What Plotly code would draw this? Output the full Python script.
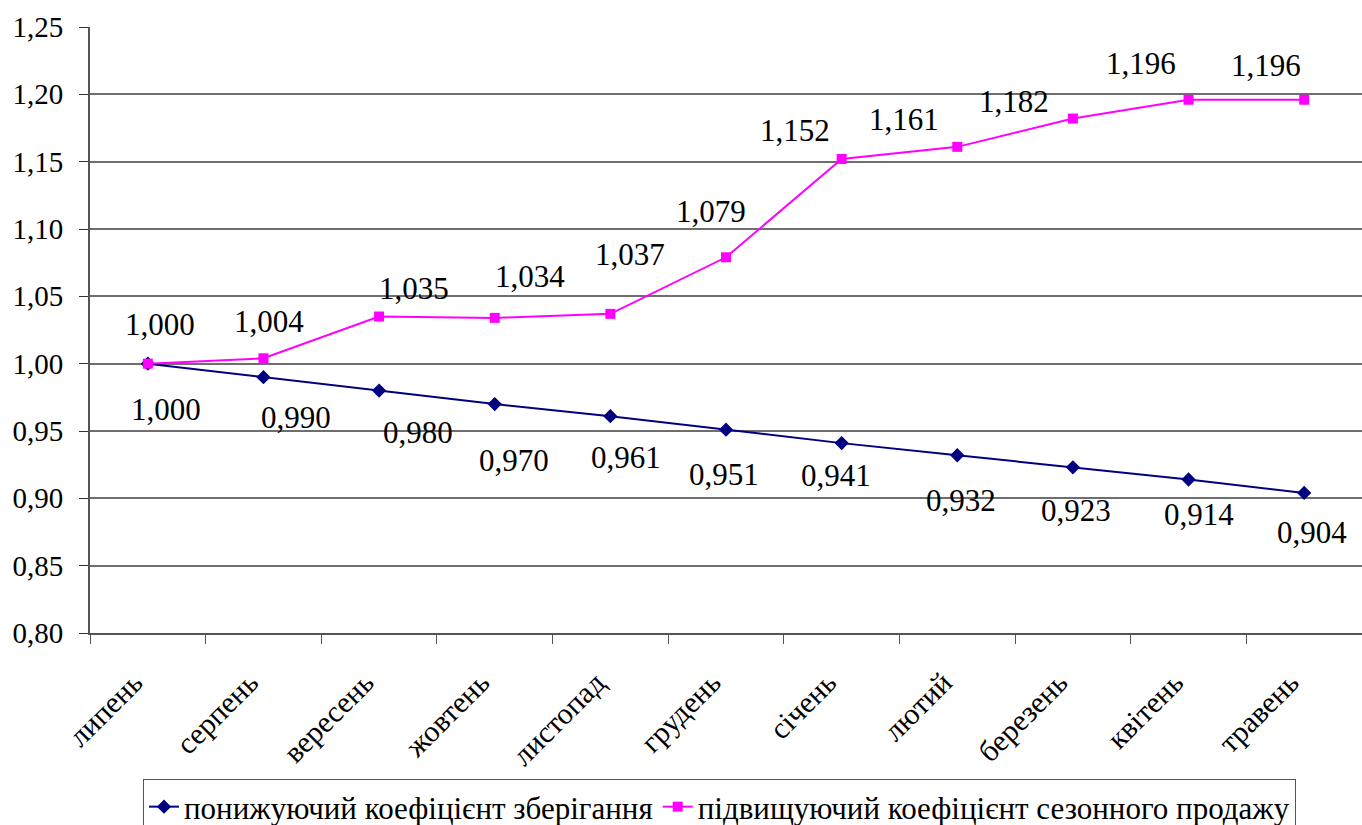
import plotly.graph_objects as go

# Months, July through May
months = ["липень", "серпень", "вересень", "жовтень", "листопад", "грудень",
          "січень", "лютий", "березень", "квітень", "травень"]

# Reducing storage coefficient
storage = [1.000, 0.990, 0.980, 0.970, 0.961, 0.951, 0.941, 0.932, 0.923, 0.914, 0.904]
# Increasing seasonal sales coefficient
seasonal = [1.000, 1.004, 1.035, 1.034, 1.037, 1.079, 1.152, 1.161, 1.182, 1.196, 1.196]

y_ticks = [0.80, 0.85, 0.90, 0.95, 1.00, 1.05, 1.10, 1.15, 1.20, 1.25]

# Hand-placed label offsets (pixels) relative to each point
storage_dx = [18, 33, 39, 19, 16, -2, -6, 4, 3, 10, 8]
storage_dy = [-46, -40, -42, -56, -41, -45, -32, -45, -43, -35, -40]
seasonal_dx = [12, 6, 35, 35, 20, -15, -47, -53, -59, -48, -38]
seasonal_dy = [39, 37, 28, 41, 59, 46, 28, 27, 17, 36, 34]

FONT = "Liberation Serif"
NAVY = "#000080"
MAGENTA = "#FF00FF"


def fmt(v):
    return f"{v:.3f}".replace(".", ",")


fig = go.Figure()
fig.add_trace(go.Scatter(
    x=months, y=storage, mode="lines+markers",
    name="понижуючий коефіцієнт зберігання",
    line=dict(color=NAVY, width=2),
    marker=dict(symbol="diamond", size=11, color=NAVY),
))
fig.add_trace(go.Scatter(
    x=months, y=seasonal, mode="lines+markers",
    name="підвищуючий коефіцієнт сезонного продажу",
    line=dict(color=MAGENTA, width=2),
    marker=dict(symbol="square", size=10, color=MAGENTA),
))

annotations = []
for m, v, dx, dy in zip(months, storage, storage_dx, storage_dy):
    annotations.append(dict(x=m, y=v, text=fmt(v), showarrow=False,
                            xshift=dx, yshift=dy,
                            font=dict(family=FONT, size=31, color="black")))
for m, v, dx, dy in zip(months, seasonal, seasonal_dx, seasonal_dy):
    annotations.append(dict(x=m, y=v, text=fmt(v), showarrow=False,
                            xshift=dx, yshift=dy,
                            font=dict(family=FONT, size=31, color="black")))

fig.update_layout(
    width=1362, height=825,
    margin=dict(l=90, r=0, t=27, b=192, autoexpand=False),
    paper_bgcolor="white", plot_bgcolor="white",
    separators=", ",
    font=dict(family=FONT, size=29, color="black"),
    showlegend=True,
    legend=dict(
        orientation="h",
        x=(143 - 90) / 1272, xanchor="left",
        y=-(779 - 633) / 606, yanchor="top",
        bordercolor="#555555", borderwidth=1,
        font=dict(family=FONT, size=31, color="black"),
        itemwidth=30,
    ),
    annotations=annotations,
)

fig.update_xaxes(
    type="category", range=[-0.5, 10.5],
    tickangle=-45, tickson="boundaries",
    ticks="outside", ticklen=9, tickcolor="#555555",
    ticklabelstandoff=18, ticklabelshift=-14,
    showline=True, linecolor="#555555", linewidth=2,
    showgrid=False, automargin=False,
    tickfont=dict(family=FONT, size=30, color="black"),
)
fig.update_yaxes(
    range=[0.80, 1.25], tickvals=y_ticks, tickformat=".2f",
    ticks="outside", ticklen=9, tickcolor="#333333",
    ticklabelstandoff=10,
    showline=True, linecolor="#555555", linewidth=2,
    showgrid=True, gridcolor="#6e6e6e", gridwidth=1.5,
    zeroline=False, automargin=False,
    tickfont=dict(family=FONT, size=29, color="black"),
)

fig.write_html("out.html")
